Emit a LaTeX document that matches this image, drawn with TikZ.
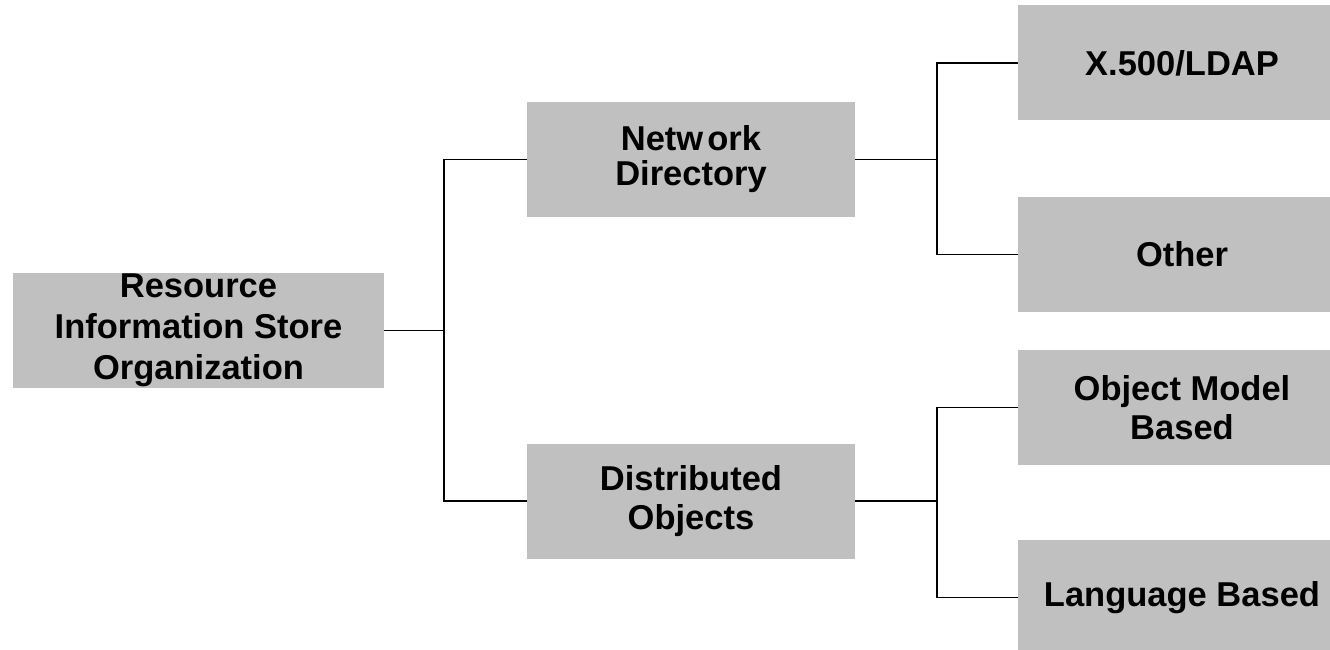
\documentclass[tikz,border=0pt]{standalone}
\usepackage{fontspec}
\newfontfamily\boxfont{Liberation Sans}
\begin{document}
\begin{tikzpicture}[x=1pt,y=-1pt,
  box/.style={fill=boxgray, draw=none, inner sep=0pt, align=center,
    minimum width=328pt, minimum height=115pt,
    font=\boxfont\bfseries\fontsize{34.5}{39}\selectfont},
  conn/.style={draw=black, line width=1.5pt}]
\definecolor{boxgray}{HTML}{C0C0C0}
\useasboundingbox (0,0) rectangle (1330,650);
\clip (0,0) rectangle (1330,650);
\node[box, minimum width=371pt, font=\boxfont\bfseries\fontsize{34.5}{41}\selectfont] (root) at (198.5,330.5) {Resource\\Information Store\\Organization};
\node[box, font=\boxfont\bfseries\fontsize{34.5}{35}\selectfont] (nd) at (691,159.5) {{\spaceskip=0.12em\relax Netw ork}\\Directory};
\node[box] (do) at (691,501) {Distributed\\Objects};
\node[box] (x5) at (1182,63) {X.500/LDAP};
\node[box] (oth) at (1182,254.5) {Other};
\node[box] (omb) at (1182,407.5) {Object Model\\Based};
\node[box] (lb) at (1182,597.5) {Language Based};
\draw[conn] (root.east) -- ++(60,0) |- (nd.west);
\draw[conn] (root.east) -- ++(60,0) |- (do.west);
\draw[conn] (nd.east) -- ++(82,0) |- (x5.west);
\draw[conn] (nd.east) -- ++(82,0) |- (oth.west);
\draw[conn] (do.east) -- ++(82,0) |- (omb.west);
\draw[conn] (do.east) -- ++(82,0) |- (lb.west);
\end{tikzpicture}
\end{document}
